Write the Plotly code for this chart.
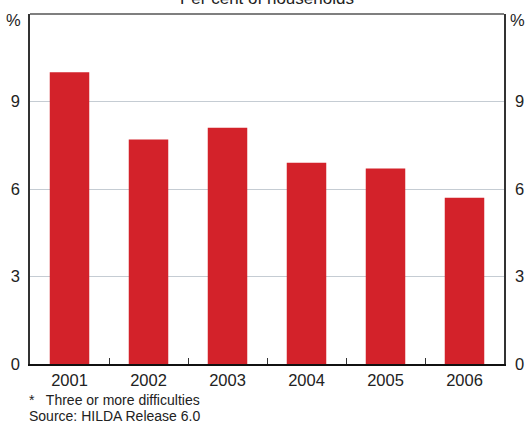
import plotly.graph_objects as go

years = ["2001", "2002", "2003", "2004", "2005", "2006"]
values = [10.0, 7.7, 8.1, 6.9, 6.7, 5.7]
y_ticks = [0, 3, 6, 9]
title_text = "Per cent of households"
footnote = "*   Three or more difficulties"
source = "Source: HILDA Release 6.0"

RED = "#d3222a"
TXT = "#222222"
FONT = "Arial, Liberation Sans, sans-serif"
TS = 16.5

fig = go.Figure()
fig.add_trace(go.Bar(x=years, y=values, marker_color=RED, width=0.5,
                     marker_line_width=0, showlegend=False, hoverinfo="skip"))
fig.add_trace(go.Scatter(x=years, y=values, yaxis="y2", mode="markers",
                         marker=dict(opacity=0), showlegend=False, hoverinfo="skip"))

fig.update_layout(
    width=527, height=421,
    margin=dict(l=30, r=23, t=14, b=57, autoexpand=False),
    paper_bgcolor="white", plot_bgcolor="white",
    font=dict(family=FONT, size=TS, color=TXT),
    xaxis=dict(type="category", tickson="boundaries", ticks="inside", ticklen=6,
               tickcolor="#333333", showline=True, linecolor="#111111", linewidth=2,
               showgrid=False, tickfont=dict(size=TS, color=TXT), mirror=False,
               automargin=False),
    yaxis=dict(range=[0, 12], tickvals=y_ticks, ticks="", showline=True,
               linecolor="#333333", linewidth=1.5, gridcolor="#c5ccd3", gridwidth=1,
               zeroline=False, tickfont=dict(size=TS, color=TXT), ticklabelstandoff=5,
               automargin=False),
    yaxis2=dict(range=[0, 12], tickvals=y_ticks, overlaying="y", side="right",
                showline=True, linecolor="#333333", linewidth=1.5, showgrid=False,
                zeroline=False, ticks="", tickfont=dict(size=TS, color=TXT),
                ticklabelstandoff=6, automargin=False),
    shapes=[dict(type="line", xref="paper", yref="paper", x0=0, x1=1, y0=1, y1=1,
                 line=dict(color="#555555", width=1.5))],
    annotations=[
        dict(text=title_text, xref="paper", yref="paper", x=0.5, y=1, yanchor="middle",
             yshift=16, showarrow=False, font=dict(size=17, color=TXT)),
        dict(text="%", xref="paper", yref="paper", x=0, xanchor="right", xshift=-7,
             y=1, yanchor="middle", yshift=-6, showarrow=False, font=dict(size=TS, color=TXT)),
        dict(text="%", xref="paper", yref="paper", x=1, xanchor="left", xshift=4,
             y=1, yanchor="middle", yshift=-6, showarrow=False, font=dict(size=TS, color=TXT)),
        dict(text=footnote, xref="paper", yref="paper", x=0, xanchor="left", xshift=-3,
             y=0, yanchor="middle", yshift=-35.5, showarrow=False, font=dict(size=14, color=TXT)),
        dict(text=source, xref="paper", yref="paper", x=0, xanchor="left", xshift=-3,
             y=0, yanchor="middle", yshift=-52, showarrow=False, font=dict(size=14, color=TXT)),
    ],
)

fig.write_html("out.html", config={"displayModeBar": False},
               post_script="document.body.style.margin='0';document.body.style.overflow='hidden';")
